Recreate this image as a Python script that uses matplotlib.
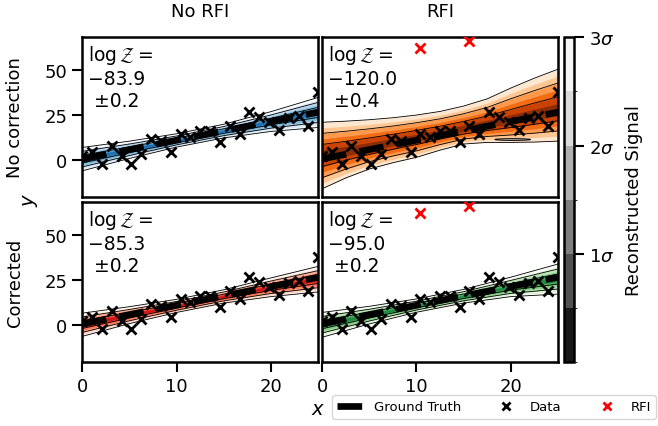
import numpy as np
import matplotlib
matplotlib.use('Agg')
import matplotlib.pyplot as plt
from matplotlib.colors import ListedColormap, BoundaryNorm
from matplotlib.cm import ScalarMappable
from matplotlib.patches import Ellipse

# Observed data (same in every panel)
x_data = [0.0, 1.04, 2.08, 3.12, 4.17, 5.21, 6.25, 7.29, 8.33, 9.38, 10.42, 11.46, 12.5,
          13.54, 14.58, 15.62, 16.67, 17.71, 18.75, 19.79, 20.83, 21.88, 22.92, 23.96, 25.0]
y_data = [2.0, 4.6, -2.2, 7.6, 2.4, -2.2, 3.3, 11.7, 10.7, 4.6, 14.4, 12.6, 16.3,
          16.3, 9.8, 18.7, 14.4, 26.8, 23.7, 21.0, 16.8, 23.5, 24.6, 18.7, 37.6]
x_rfi = [10.42, 15.62]
y_rfi = [62.0, 66.0]
x_truth = [0.0, 25.0]
y_truth = [0.6, 26.6]

# Reconstructions: centre and 3 sigma edges
knots = [0, 5, 10, 15, 20, 25]
blue_mid = [0.5, 5.7, 10.9, 16.1, 21.4, 26.5]
blue_hi = [7.0, 10.5, 14.6, 19.9, 26.9, 34.8]
blue_lo = [-6.0, 0.9, 7.2, 12.3, 15.9, 18.1]

red_mid = [0.3, 5.5, 10.7, 15.9, 21.0, 25.5]
red_hi = [6.6, 10.2, 14.3, 19.6, 26.2, 32.6]
red_lo = [-6.3, 0.8, 7.0, 12.2, 15.8, 18.4]

green_mid = [0.3, 5.5, 10.8, 16.0, 21.2, 25.6]
green_hi = [7.0, 10.4, 14.5, 19.8, 26.6, 33.9]
green_lo = [-6.8, 0.6, 7.1, 12.2, 15.8, 17.2]

knots_wide = [0, 2.5, 5, 7.5, 10, 12.5, 15, 17.5, 20, 22.5, 25]
orange_mid = [2.5, 4.8, 7.2, 9.7, 12.2, 14.7, 17.2, 19.7, 22.2, 24.8, 27.5]
orange_hi = [21.0, 21.6, 22.4, 23.5, 25.0, 27.0, 30.0, 34.0, 40.0, 45.5, 50.5]
orange_lo = [-16.0, -10.0, -5.0, -1.5, 1.5, 5.5, 8.9, 9.8, 9.8, 10.0, 10.5]
orange_blob = [20.2, 11.4, 3.8, 1.0]  # small island contour: x, y, width, height

logz = ['\u221283.9\n \u00b10.2', '\u2212120.0\n \u00b10.4',
        '\u221285.3\n \u00b10.2', '\u221295.0\n \u00b10.2']

levels = [0.5, 1.0, 1.5, 2.0, 2.5, 3.0]

W, H = 658, 427
fig = plt.figure(figsize=(W / 100, H / 100), dpi=100)
plt.rcParams['axes.linewidth'] = 1.8


def draw_band(ax, xk, mid, hi, lo, cmap, top, bottom):
    mid, hi, lo = np.asarray(mid), np.asarray(hi), np.asarray(lo)
    shades = cmap(np.linspace(top, bottom, 6))
    for j in range(5, -1, -1):
        k = levels[j]
        ax.fill_between(xk, mid - k / 3 * (mid - lo), mid + k / 3 * (hi - mid),
                        color=shades[j], lw=0, zorder=1)
    for k in [1, 2, 3]:
        ax.plot(xk, mid + k / 3 * (hi - mid), color='k', lw=0.6, zorder=2)
        ax.plot(xk, mid - k / 3 * (mid - lo), color='k', lw=0.6, zorder=2)


panels = [
    (0, 0, plt.cm.Blues, knots, blue_mid, blue_hi, blue_lo, False),
    (0, 1, plt.cm.Oranges, knots_wide, orange_mid, orange_hi, orange_lo, True),
    (1, 0, plt.cm.Reds, knots, red_mid, red_hi, red_lo, False),
    (1, 1, plt.cm.Greens, knots, green_mid, green_hi, green_lo, True),
]

lefts = [82.2 / W, 322 / W]
bottoms = [1 - 198.3 / H, 1 - 363.3 / H]
aw, ah = 236 / W, 160 / H

for i, (r, c, cmap, xk, mid, hi, lo, rfi) in enumerate(panels):
    ax = fig.add_axes([lefts[c], bottoms[r], aw, ah])
    if (r, c) == (0, 1):
        draw_band(ax, xk, mid, hi, lo, cmap, 0.95, 0.12)
        ax.add_patch(Ellipse((orange_blob[0], orange_blob[1]), orange_blob[2], orange_blob[3],
                             facecolor='0.6', edgecolor='k', lw=0.6, zorder=2))
    else:
        draw_band(ax, xk, mid, hi, lo, cmap, 0.75, 0.0)
    gt, = ax.plot(x_truth, y_truth, color='k', lw=4.8, ls=(0, (3.7, 2.0)), zorder=3,
                  label='Ground Truth')
    dat, = ax.plot(x_data, y_data, 'x', color='k', ms=7, mew=2.0, zorder=4, label='Data')
    if rfi:
        rf, = ax.plot(x_rfi, y_rfi, 'x', color='r', ms=6.5, mew=2.0, zorder=4, label='RFI')
    ax.set_xlim(0, 25)
    ax.set_ylim(-20.7, 68.2)
    ax.set_xticks([0, 10, 20])
    ax.set_yticks([0, 25, 50])
    ax.tick_params(labelsize=13, length=7, width=1.5)
    if r == 0:
        ax.tick_params(bottom=False, labelbottom=False)
    if c == 1:
        ax.tick_params(left=False, labelleft=False)
    ax.text(0.025, 0.965, r'$\log\mathcal{Z}=$' + '\n' + logz[i], transform=ax.transAxes,
            va='top', ha='left', fontsize=13.5, zorder=5)

# column and row labels
fig.text((82.2 + 118) / W, 1 - 12 / H, 'No RFI', ha='center', va='center', fontsize=13)
fig.text((322 + 118) / W, 1 - 12 / H, 'RFI', ha='center', va='center', fontsize=13)
fig.text(15 / W, 1 - 118 / H, 'No correction', ha='center', va='center', rotation=90, fontsize=13)
fig.text(15 / W, 1 - 283 / H, 'Corrected', ha='center', va='center', rotation=90, fontsize=13)
fig.text(31 / W, 1 - 200 / H, '$y$', ha='center', va='center', rotation=90, fontsize=14)
fig.text(318 / W, 1 - 410 / H, '$x$', ha='center', va='center', fontsize=14)

# colorbar
cax = fig.add_axes([564 / W, 1 - 363.3 / H, 10 / W, 325 / H])
greys = ListedColormap(plt.cm.Greys_r(np.linspace(0.083, 0.917, 6)))
norm = BoundaryNorm([0] + levels, 6)
cb = fig.colorbar(ScalarMappable(norm=norm, cmap=greys), cax=cax, ticks=[1, 2, 3])
cb.set_ticklabels([r'$1\sigma$', r'$2\sigma$', r'$3\sigma$'])
cb.outline.set_linewidth(1.8)
cax.tick_params(labelsize=13, length=7, width=1.5)
cb.set_label('Reconstructed Signal', fontsize=13, labelpad=8)

fig.legend([gt, dat, rf], ['Ground Truth', 'Data', 'RFI'], loc='upper left',
           bbox_to_anchor=(332 / W, 1 - 396 / H), ncol=3, fontsize=9.5, markerscale=0.8,
           handlelength=2.0, columnspacing=2.4, borderaxespad=0)

fig.savefig('out.png', dpi=100)
